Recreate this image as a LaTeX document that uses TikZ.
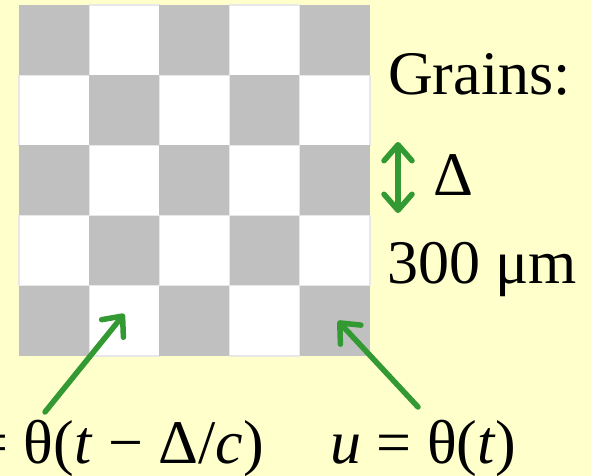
\documentclass[tikz,border=0pt]{standalone}
\usepackage{fontspec}
\setmainfont{Liberation Serif}
\usepackage{xcolor}
\usetikzlibrary{arrows.meta,positioning}

\definecolor{paper}{RGB}{255,255,204}
\definecolor{grain}{RGB}{192,192,192}
\definecolor{arrowgreen}{RGB}{51,153,51}

\begin{document}
\begin{tikzpicture}[
    x=1pt, y=-1pt,
    >={Straight Barb[length=16pt,width=28pt,line cap=round,line join=round]},
    cell/.style={minimum size=70.2pt, inner sep=0pt, outer sep=0pt},
    txt/.style={font=\fontsize{62}{70}\selectfont, inner sep=0pt, anchor=base west},
    garrow/.style={draw=arrowgreen, line width=5.5pt, line cap=round}
]
\fill[paper] (0,0) rectangle (591,476);
\useasboundingbox (0,0) rectangle (591,476);

% the grains, 5 by 5
\foreach \r in {0,...,4}
  \foreach \c in {0,...,4} {
    \pgfmathtruncatemacro\k{mod(\r+\c,2)}
    \ifnum\k=0
      \node[cell, fill=grain] (c\r\c) at ({54.1+70.2*\c},{40.1+70.2*\r}) {};
    \else
      \node[cell, fill=white, draw=gray!18, line width=1.2pt] (c\r\c)
        at ({54.1+70.2*\c},{40.1+70.2*\r}) {};
    \fi
  }

\node[txt] (grains) at (388,95) {Grains:};
\node[txt] (delta) at (433,195) {Δ};
\node[txt] (size) at (387,283) {300 μm};

\node[txt, anchor=base east] (late) at (264,463) {= θ(\textit{t} − Δ/\textit{c})};
\node[txt] (now) at (330,463) {\textit{u} = θ(\textit{t})};

% grain size marker
\coordinate (dtop) at (398,142);
\coordinate (dbot) at (398,213);
\draw[garrow, <->] (dtop) -- (dbot);

% arrows to the two grains
\coordinate (latetail) at (45,412);
\coordinate (nowtail) at (418,407);
\draw[garrow, ->] (latetail) -- ([yshift=7pt]c41.center);
\draw[garrow, ->] (nowtail) -- ([xshift=3pt]c44.center);
\end{tikzpicture}
\end{document}
